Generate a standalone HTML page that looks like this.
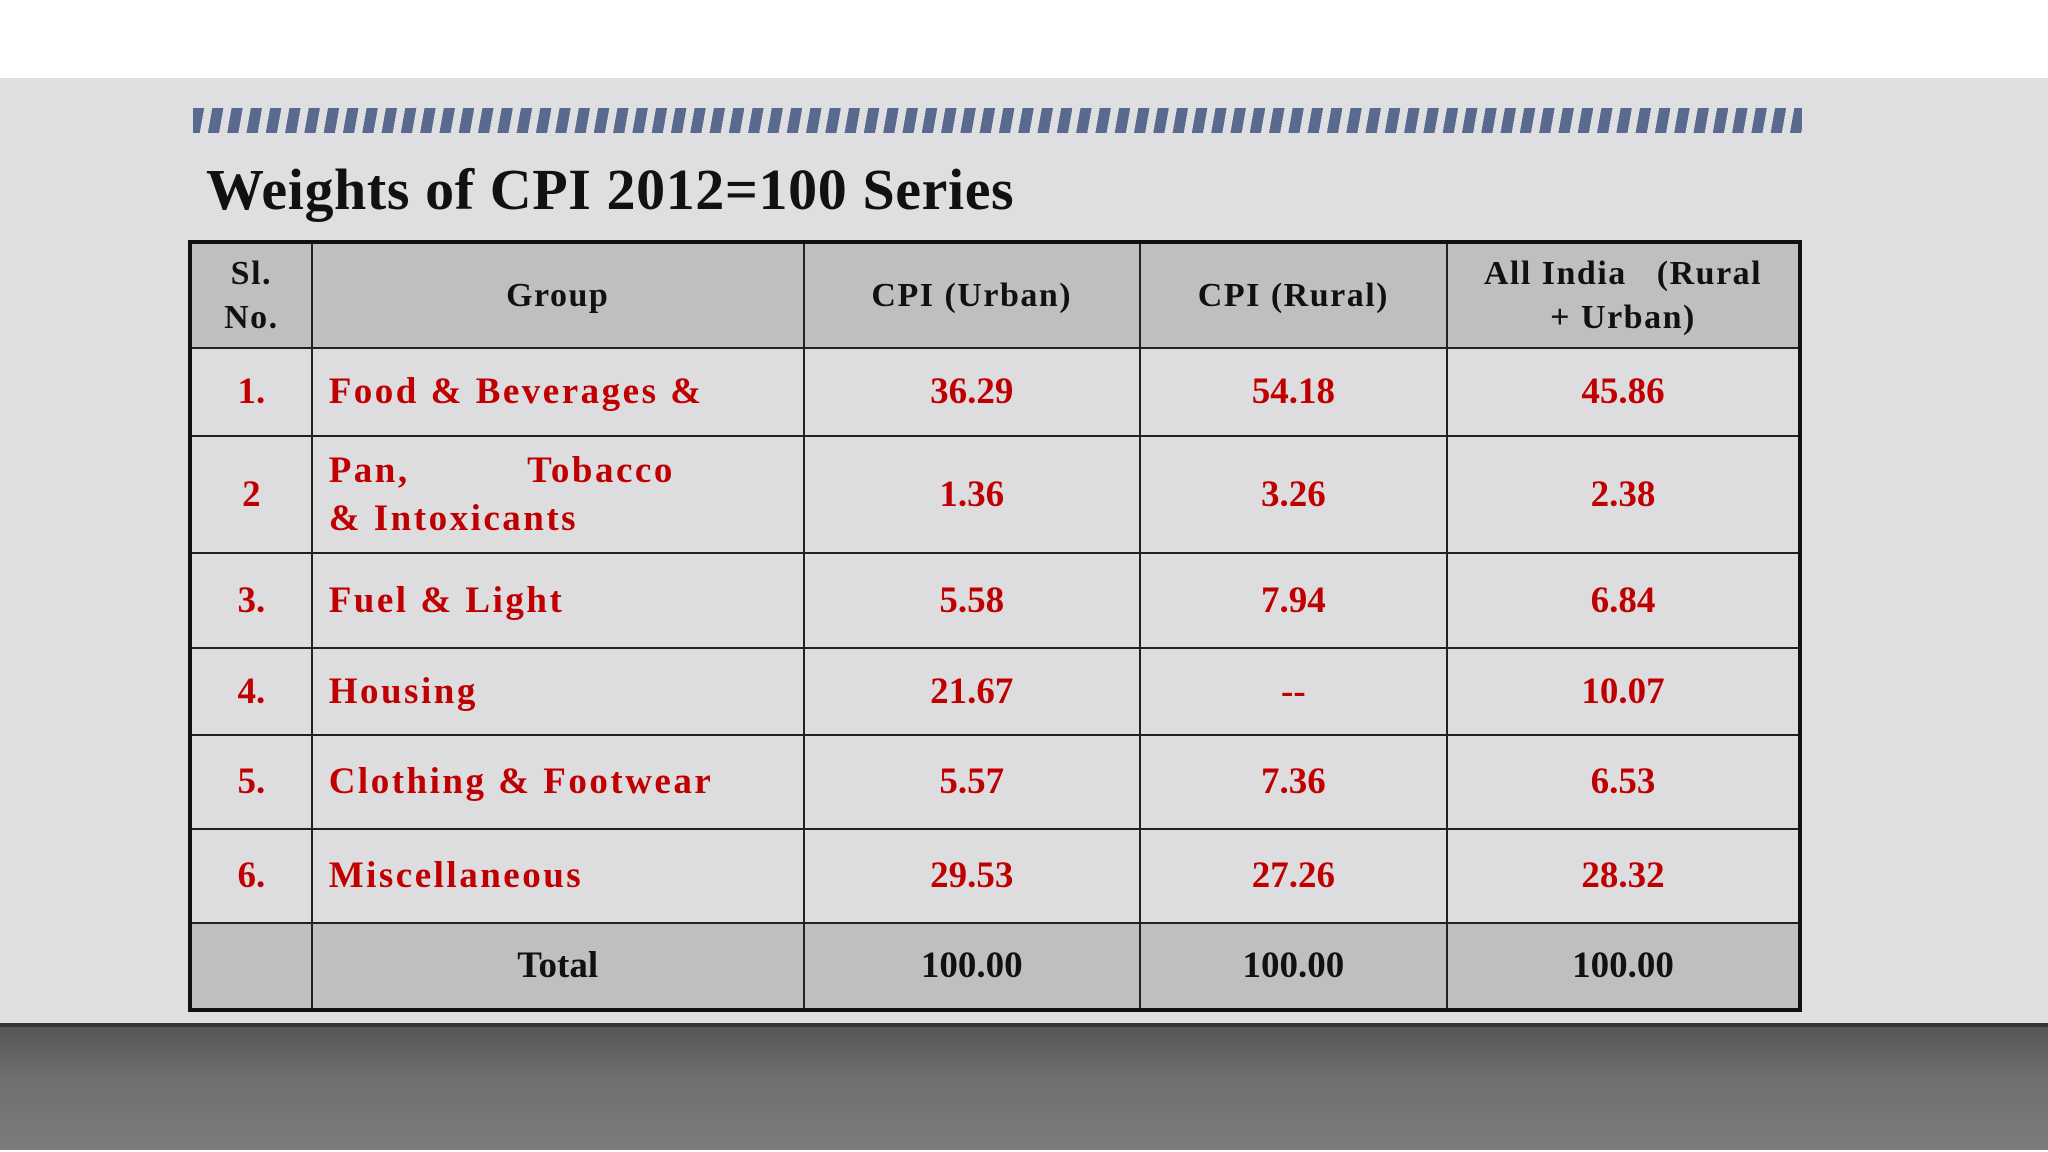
<!DOCTYPE html>
<html><head><meta charset="utf-8"><style>
html,body{margin:0;padding:0}
body{width:2048px;height:1152px;position:relative;overflow:hidden;background:#fff;font-family:"Liberation Serif","DejaVu Serif",serif}
#panel{position:absolute;left:0;top:78px;width:2048px;height:947px;background:#dfdfe1}
#floor{position:absolute;left:0;top:1027px;width:2048px;height:123px;background:linear-gradient(#555,#6e6e6e 40%,#7c7c7c)}
#floorline{position:absolute;left:0;top:1023px;width:2048px;height:4px;background:#333}
#stripes{position:absolute;left:193px;top:108px;width:1609px;height:25px;background:repeating-linear-gradient(100deg,#5a6a8e 0 11px,transparent 11px 19px)}
#title{position:absolute;left:206px;top:152px;font-size:58px;font-weight:bold;color:#111;line-height:76px;white-space:nowrap;letter-spacing:0.6px}
table{position:absolute;left:188px;top:240px;width:1614px;border-collapse:collapse;border:4px solid #111}
td{border:2px solid #222;font-weight:bold;font-size:37px;color:#c00000;text-align:center;padding:0;background:#dddde0;line-height:48px}
tr.h td{background:#bfbfbf;color:#111;font-size:34px;line-height:44px;letter-spacing:1.5px}
tr.t td{background:#bfbfbf;color:#111}
td.g{text-align:left;padding-left:16px;letter-spacing:2.5px}
</style></head><body>
<div id="panel"></div>
<div id="floorline"></div>
<div id="floor"></div>
<div id="stripes"></div>
<div id="title">Weights of CPI 2012=100 Series</div>
<table>
<colgroup><col style="width:122px"><col style="width:493px"><col style="width:337px"><col style="width:308px"><col style="width:354px"></colgroup>
<tr class="h" style="height:106px"><td>Sl.<br>No.</td><td>Group</td><td>CPI (Urban)</td><td>CPI (Rural)</td><td>All India &nbsp;&nbsp;(Rural<br>+ Urban)</td></tr>
<tr style="height:88px"><td>1.</td><td class="g">Food &amp; Beverages &amp;</td><td>36.29</td><td>54.18</td><td>45.86</td></tr>
<tr style="height:117px"><td>2</td><td class="g">Pan, &nbsp;&nbsp;&nbsp;&nbsp;&nbsp;&nbsp;&nbsp;&nbsp;&nbsp;Tobacco<br>&amp; Intoxicants</td><td>1.36</td><td>3.26</td><td>2.38</td></tr>
<tr style="height:95px"><td>3.</td><td class="g">Fuel &amp; Light</td><td>5.58</td><td>7.94</td><td>6.84</td></tr>
<tr style="height:87px"><td>4.</td><td class="g">Housing</td><td>21.67</td><td>--</td><td>10.07</td></tr>
<tr style="height:94px"><td>5.</td><td class="g">Clothing &amp; Footwear</td><td>5.57</td><td>7.36</td><td>6.53</td></tr>
<tr style="height:94px"><td>6.</td><td class="g">Miscellaneous</td><td>29.53</td><td>27.26</td><td>28.32</td></tr>
<tr class="t" style="height:87px"><td></td><td>Total</td><td>100.00</td><td>100.00</td><td>100.00</td></tr>
</table>
</body></html>
